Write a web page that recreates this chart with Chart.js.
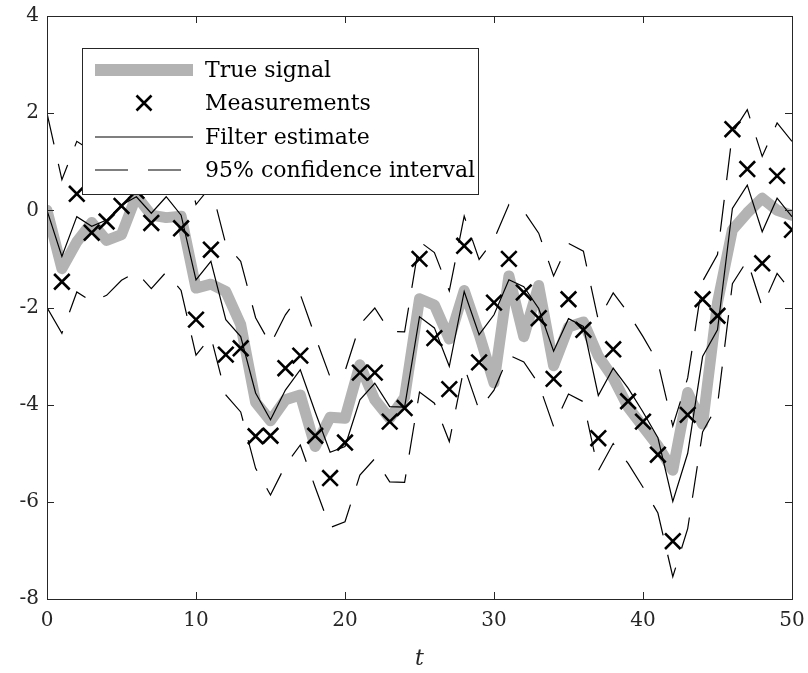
<!DOCTYPE html>
<html><head><meta charset="utf-8">
<script src="https://cdn.jsdelivr.net/npm/chart.js@4.4.0/dist/chart.umd.min.js"></script>
<style>html,body{margin:0;padding:0;background:#fff;}#wrap{width:808px;height:673px;}</style>
</head><body><div id="wrap"><canvas id="c" width="808" height="673"></canvas></div>
<script>
const tValues = [0,1,2,3,4,5,6,7,8,9,10,11,12,13,14,15,16,17,18,19,20,21,22,23,24,25,26,27,28,29,30,31,32,33,34,35,36,37,38,39,40,41,42,43,44,45,46,47,48,49,50];
const trueSignal = [0,-1.2,-0.65,-0.25,-0.62,-0.5,0.3,-0.1,-0.15,-0.12,-1.6,-1.52,-1.67,-2.35,-3.95,-4.33,-3.9,-3.8,-4.86,-4.26,-4.28,-3.18,-3.9,-4.28,-3.85,-1.82,-1.95,-2.65,-1.65,-2.55,-3.55,-1.35,-2.6,-1.55,-3.2,-2.4,-2.3,-3.0,-3.45,-4.05,-4.45,-4.85,-5.35,-3.75,-4.4,-1.9,-0.4,-0.05,0.25,0.0,-0.1];
const measurements = [null,-1.47,0.34,-0.46,-0.23,0.09,0.4,-0.26,0.9,-0.37,-2.25,-0.81,-2.97,-2.84,-4.65,-4.64,-3.25,-2.99,-4.64,-5.51,-4.78,-3.34,-3.34,-4.35,-4.07,-1.0,-2.63,-3.68,-0.73,-3.13,-1.9,-1.0,-1.69,-2.22,-3.47,-1.83,-2.46,-4.69,-2.86,-3.93,-4.35,-5.03,-6.81,-4.21,-1.83,-2.17,1.67,0.85,-1.09,0.71,-0.4];
const filterEstimate = [0,-0.95,-0.13,-0.33,-0.2,0.11,0.28,-0.06,0.28,-0.1,-1.43,-1.05,-2.25,-2.6,-3.76,-4.31,-3.7,-3.28,-4.15,-4.98,-4.86,-3.9,-3.56,-4.04,-4.05,-2.19,-2.42,-3.21,-1.67,-2.56,-2.15,-1.43,-1.57,-2.02,-2.9,-2.23,-2.39,-3.81,-3.25,-3.66,-4.15,-4.68,-5.99,-5.0,-3.01,-2.46,0.04,0.52,-0.44,0.25,-0.13];
const ciUpper = [2.0,0.63,1.42,1.22,1.35,1.66,1.83,1.49,1.83,1.45,0.12,0.5,-0.7,-1.05,-2.21,-2.76,-2.15,-1.73,-2.6,-3.43,-3.31,-2.35,-2.01,-2.49,-2.5,-0.64,-0.87,-1.66,-0.12,-1.01,-0.6,0.12,-0.02,-0.47,-1.35,-0.68,-0.84,-2.26,-1.7,-2.11,-2.6,-3.13,-4.44,-3.45,-1.46,-0.91,1.59,2.07,1.11,1.8,1.42];
const ciLower = [-2.0,-2.53,-1.68,-1.88,-1.75,-1.44,-1.27,-1.61,-1.27,-1.65,-2.98,-2.6,-3.8,-4.15,-5.31,-5.86,-5.25,-4.83,-5.7,-6.53,-6.41,-5.45,-5.11,-5.59,-5.6,-3.74,-3.97,-4.76,-3.22,-4.11,-3.7,-2.98,-3.12,-3.57,-4.45,-3.78,-3.94,-5.36,-4.8,-5.21,-5.7,-6.23,-7.54,-6.55,-4.56,-4.01,-1.51,-1.03,-1.99,-1.3,-1.68];
const xTicks = [0,10,20,30,40,50];
const yTicks = [-8,-6,-4,-2,0,2,4];
const legendLabels = ['True signal','Measurements','Filter estimate','95% confidence interval'];
const xTitle = 't';

const pts = arr => arr.map((v,i)=>({x:tValues[i], y:v}));
const FONT = "'DejaVu Serif', serif";
const INK = '#262626';
const GRAY = 'rgb(179,179,179)';
const DASH = [32,20];

const decor = {
  id:'decor',
  afterDraw(chart){
    const ctx = chart.ctx, ca = chart.chartArea;
    const xs = chart.scales.x, ys = chart.scales.y;
    ctx.save();
    ctx.strokeStyle = INK; ctx.lineWidth = 1;
    ctx.strokeRect(Math.round(ca.left)+0.5, Math.round(ca.top)+0.5, Math.round(ca.right-ca.left), Math.round(ca.bottom-ca.top));
    const tl = 7;
    ctx.beginPath();
    xTicks.forEach(v=>{
      const px = Math.round(xs.getPixelForValue(v))+0.5;
      ctx.moveTo(px, ca.bottom); ctx.lineTo(px, ca.bottom-tl);
      ctx.moveTo(px, ca.top); ctx.lineTo(px, ca.top+tl);
    });
    yTicks.forEach(v=>{
      const py = Math.round(ys.getPixelForValue(v))+0.5;
      ctx.moveTo(ca.left, py); ctx.lineTo(ca.left+tl, py);
      ctx.moveTo(ca.right, py); ctx.lineTo(ca.right-tl, py);
    });
    ctx.stroke();
    ctx.fillStyle = INK;
    ctx.font = "italic 22px " + FONT;
    ctx.textAlign = 'center'; ctx.textBaseline = 'middle';
    ctx.fillText(xTitle, (ca.left+ca.right)/2, 659);
    const lx = ca.left+35, ly = ca.top+32, lw = 396, lh = 146;
    ctx.fillStyle = '#fff';
    ctx.fillRect(lx, ly, lw, lh);
    ctx.strokeStyle = INK; ctx.lineWidth = 1;
    ctx.strokeRect(lx+0.5, ly+0.5, lw, lh);
    const rows = [ly+22, ly+55, ly+89, ly+122];
    const sx0 = lx+13, sx1 = lx+111, tx = lx+123;
    ctx.strokeStyle = GRAY; ctx.lineWidth = 12; ctx.lineCap = 'butt';
    ctx.beginPath(); ctx.moveTo(sx0, rows[0]); ctx.lineTo(sx1, rows[0]); ctx.stroke();
    const mx = (sx0+sx1)/2, r = 7.5;
    ctx.strokeStyle = '#000'; ctx.lineWidth = 2.6;
    ctx.beginPath();
    ctx.moveTo(mx-r, rows[1]-r); ctx.lineTo(mx+r, rows[1]+r);
    ctx.moveTo(mx-r, rows[1]+r); ctx.lineTo(mx+r, rows[1]-r);
    ctx.stroke();
    ctx.lineWidth = 1.2;
    ctx.beginPath(); ctx.moveTo(sx0, rows[2]); ctx.lineTo(sx1, rows[2]); ctx.stroke();
    ctx.setLineDash([33,20]);
    ctx.beginPath(); ctx.moveTo(sx0, rows[3]); ctx.lineTo(sx0+86, rows[3]); ctx.stroke();
    ctx.setLineDash([]);
    ctx.fillStyle = '#000';
    ctx.font = "22px " + FONT;
    ctx.textAlign = 'left'; ctx.textBaseline = 'middle';
    legendLabels.forEach((s,i)=>ctx.fillText(s, tx, rows[i]+1));
    ctx.restore();
  }
};

new Chart(document.getElementById('c'), {
  type:'line',
  data:{
    datasets:[
      {label:legendLabels[0], data:pts(trueSignal), borderColor:GRAY, borderWidth:11, pointRadius:0, fill:false, tension:0, order:4, borderJoinStyle:'round', borderCapStyle:'round'},
      {label:legendLabels[3], data:pts(ciUpper), borderColor:'#000', borderWidth:1.2, borderDash:DASH, pointRadius:0, fill:false, tension:0, order:3},
      {label:'lower', data:pts(ciLower), borderColor:'#000', borderWidth:1.2, borderDash:DASH, pointRadius:0, fill:false, tension:0, order:3},
      {label:legendLabels[2], data:pts(filterEstimate), borderColor:'#000', borderWidth:1.2, pointRadius:0, fill:false, tension:0, order:2},
      {label:legendLabels[1], data:pts(measurements), showLine:false, pointStyle:'crossRot', pointRadius:11, pointBorderWidth:2.6, borderColor:'#000', pointBorderColor:'#000', backgroundColor:'#000', pointHoverRadius:11, order:1}
    ]
  },
  options:{
    responsive:false, devicePixelRatio:1, animation:false,
    layout:{padding:{top:16,right:16,left:0,bottom:0}},
    plugins:{legend:{display:false}, tooltip:{enabled:false}},
    scales:{
      x:{type:'linear', min:0, max:50,
         afterBuildTicks: s => { s.ticks = xTicks.map(v=>({value:v})); },
         afterFit: s => { s.height = 74; s.paddingLeft = 0; s.paddingRight = 0; },
         grid:{display:false, drawTicks:false}, border:{display:false},
         ticks:{color:INK, font:{family:FONT, size:20}, padding:10, maxRotation:0, autoSkip:false}},
      y:{type:'linear', min:-8, max:4,
         afterBuildTicks: s => { s.ticks = yTicks.map(v=>({value:v})); },
         afterFit: s => { s.width = 47; s.paddingTop = 0; s.paddingBottom = 0; },
         grid:{display:false, drawTicks:false}, border:{display:false},
         ticks:{color:INK, font:{family:FONT, size:20}, padding:8, autoSkip:false, callback:v=>String(v)}}
    }
  },
  plugins:[decor]
});
</script>
</body></html>
